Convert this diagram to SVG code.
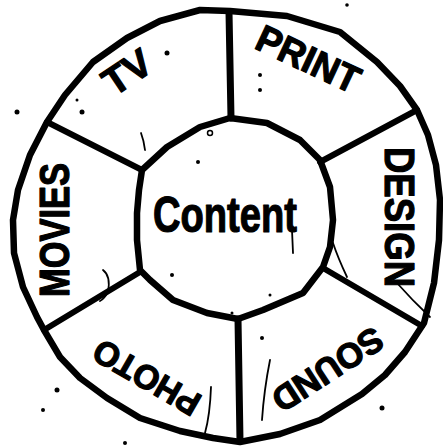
<svg xmlns="http://www.w3.org/2000/svg" width="443" height="448" viewBox="0 0 443 448">
<style>
.ring{fill:none;stroke:#000;stroke-width:6.5;stroke-linejoin:round;stroke-linecap:round}
.div{fill:none;stroke:#000;stroke-width:6;stroke-linecap:round}
.divv{fill:none;stroke:#000;stroke-width:7;stroke-linecap:round}
.lbl{font-family:"Liberation Sans","DejaVu Sans",sans-serif;font-weight:bold;fill:#000;stroke:#000;stroke-width:1.2;stroke-linejoin:round;text-anchor:middle}
.mark{fill:none;stroke:#000;stroke-width:1.8;stroke-linecap:round}
.dot{fill:#000}
</style>
<rect width="443" height="448" fill="#fff"/>
<g id="ring">
<polygon class="ring" points="230,11 287,16 340,32 377,62 400,86 417,110 428,135 436,165 440,200 439,240 434,283 424,323 405,352 385,375 362,394 320,420 280,434 240,442 213,438 180,431 140,418 107,398 80,378 60,357 44,330 37,317 23,287 14,253 13,220 18,190 30,155 47,122 65,95 93,62 127,38 160,21 200,10"/>
</g>
<g id="connectors">
<line class="divv" x1="229" y1="12" x2="231" y2="118"/>
<line class="div" x1="417" y1="110" x2="320" y2="162"/>
<line class="div" x1="323" y1="268" x2="422" y2="326"/>
<line class="divv" x1="238" y1="319" x2="240" y2="441"/>
<line class="div" x1="140" y1="272" x2="44" y2="330"/>
<line class="div" x1="47" y1="122" x2="142" y2="170"/>
</g>
<g id="content">
<polygon class="ring" points="230,118 267,123 300,140 320,160 330,187 333,220 330,247 323,267 303,293 263,310 238,319 207,313 173,300 150,280 140,270 137,240 137,213 139,190 142,170 167,147 200,127"/>
<text class="lbl" x="225" y="232" font-size="50" textLength="144" lengthAdjust="spacingAndGlyphs">Content</text>
</g>
<g id="tv">
<text class="lbl" transform="translate(129,75) rotate(-34)" x="0" y="10" font-size="39" textLength="50" lengthAdjust="spacingAndGlyphs">TV</text>
</g>
<g id="print">
<text class="lbl" transform="translate(307,62) rotate(25)" x="0" y="10" font-size="38" textLength="110" lengthAdjust="spacingAndGlyphs">PRINT</text>
</g>
<g id="design">
<text class="lbl" transform="translate(396,217) rotate(90)" x="0" y="11" font-size="42" textLength="140" lengthAdjust="spacingAndGlyphs">DESIGN</text>
</g>
<g id="sound">
<text class="lbl" transform="translate(326,367) rotate(147)" x="0" y="9" font-size="35" textLength="125" lengthAdjust="spacingAndGlyphs">SOUND</text>
</g>
<g id="photo">
<text class="lbl" transform="translate(148,375) rotate(210)" x="0" y="9" font-size="34" textLength="118" lengthAdjust="spacingAndGlyphs">PHOTO</text>
</g>
<g id="movies">
<text class="lbl" transform="translate(58,230) rotate(-90)" x="0" y="11" font-size="42" textLength="134" lengthAdjust="spacingAndGlyphs">MOVIES</text>
</g>
<g id="marks">
<path class="mark" d="M141,133 Q144,141 145,150"/>
<path class="mark" d="M270,360 Q264,390 262,420"/>
<path class="mark" d="M211,387 Q210,415 205,433"/>
<path class="mark" d="M333,243 Q338,258 347,277"/>
<path class="mark" d="M397,283 Q412,300 430,317"/>
<path class="mark" d="M103,270 Q111,276 108,292 Q104,299 100,301"/>
<path class="mark" stroke-width="2.5" d="M292,230 L293,253"/>
<circle cx="210" cy="133" r="2.5" fill="none" stroke="#000" stroke-width="1.5"/>
<circle class="dot" cx="167" cy="53" r="2.5"/>
<circle class="dot" cx="82" cy="112" r="2.5"/>
<circle class="dot" cx="77" cy="100" r="1.5"/>
<circle class="dot" cx="260" cy="75" r="2"/>
<circle class="dot" cx="260" cy="90" r="2"/>
<circle class="dot" cx="347" cy="5" r="1.8"/>
<circle class="dot" cx="17" cy="112" r="2.5"/>
<circle class="dot" cx="57" cy="390" r="2.5"/>
<circle class="dot" cx="43" cy="410" r="2"/>
<circle class="dot" cx="382" cy="408" r="2.5"/>
<circle class="dot" cx="125" cy="443" r="2"/>
<circle class="dot" cx="262" cy="338" r="2"/>
<circle class="dot" cx="198" cy="162" r="2"/>
<circle class="dot" cx="172" cy="275" r="2"/>
<circle class="dot" cx="270" cy="295" r="1.5"/>
<circle class="dot" cx="232" cy="313" r="1.5"/>
</g>
</svg>
